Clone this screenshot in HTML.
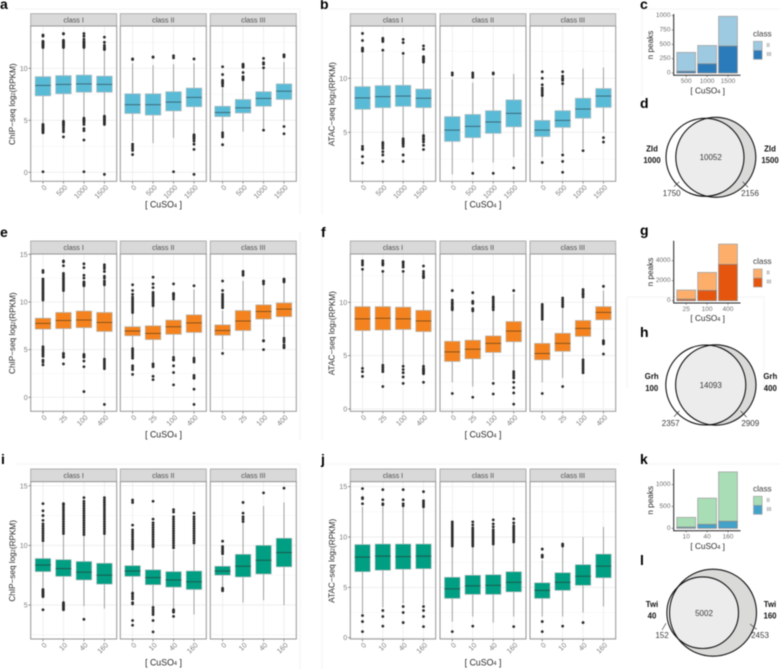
<!DOCTYPE html>
<html lang="en">
<head>
<meta charset="utf-8">
<title>CuSO4 induction ChIP-seq and ATAC-seq figure</title>
<style>
html,body{margin:0;padding:0;background:#fff;width:780px;height:669px;overflow:hidden}
#figure{display:block;filter:blur(.4px)}
text{font-family:"Liberation Sans",sans-serif}
.letter{font-size:14px;font-weight:700;fill:#000}
.vt{font-size:8px;fill:#3a3a3a;text-anchor:middle;dominant-baseline:central}
.vb{font-size:7.8px;font-weight:700;fill:#111;text-anchor:middle;dominant-baseline:central}
.wm{stroke:#f3f3f3;stroke-width:1;fill:none}
.sub{font-size:5.6px}
</style>
</head>
<body>
<svg id="figure" xmlns="http://www.w3.org/2000/svg" width="780" height="669" viewBox="0 0 780 669">
<defs>
<clipPath id="clip-d"><circle cx="715.8" cy="157.3" r="40"/></clipPath>
<clipPath id="clip-h"><circle cx="715.8" cy="385" r="40.2"/></clipPath>
<clipPath id="clip-l"><circle cx="713" cy="612.7" r="43.5"/></clipPath>
</defs>
<g id="watermarks">
<path class="wm" d="M15 9H300V214M322 214V9H620M642 96V9H780"/>
<path class="wm" d="M300 232V440M322 232V440M627 297H764V388M627 297V388"/>
<path class="wm" d="M15 464H300V669M322 669V464H620M642 464H780"/>
</g>
<g id="plots"></g>

<g>
<text class="letter" x="0" y="9">a</text>
<text class="letter" x="320" y="9">b</text>
<text class="letter" x="640" y="9">c</text>
<text class="letter" x="640" y="108">d</text>
<text class="letter" x="0" y="237">e</text>
<text class="letter" x="321" y="237">f</text>
<text class="letter" x="640" y="235">g</text>
<text class="letter" x="640" y="337">h</text>
<text class="letter" x="1" y="464">i</text>
<text class="letter" x="321" y="464">j</text>
<text class="letter" x="640" y="464">k</text>
<text class="letter" x="640" y="565">l</text>
</g>

<g>
<circle cx="715.8" cy="157.3" r="40" fill="#dadad9"/>
<circle cx="705" cy="157.3" r="39" fill="#fff"/>
<circle cx="705" cy="157.3" r="39" fill="#ececec" clip-path="url(#clip-d)"/>
<circle cx="705" cy="157.3" r="39" fill="none" stroke="#111" stroke-width="1.1"/>
<circle cx="715.8" cy="157.3" r="40" fill="none" stroke="#111" stroke-width="1.1"/>
<path d="M679.3 181.7L674 186.7M742.7 181.7L748 187.3" stroke="#444" stroke-width=".7" fill="none"/>
<text class="vt" x="710.7" y="157.7">10052</text>
<text class="vb" x="652" y="149">Zld</text>
<text class="vb" x="652" y="160.7">1000</text>
<text class="vb" x="770" y="149">Zld</text>
<text class="vb" x="770" y="160.7">1500</text>
<text class="vt" x="671.7" y="193.7">1750</text>
<text class="vt" x="750" y="193.7">2156</text>
</g>

<g>
<circle cx="715.8" cy="385" r="40.2" fill="#dadad9"/>
<circle cx="705.8" cy="385" r="40" fill="#fff"/>
<circle cx="705.8" cy="385" r="40" fill="#ececec" clip-path="url(#clip-h)"/>
<circle cx="705.8" cy="385" r="40" fill="none" stroke="#111" stroke-width="1.1"/>
<circle cx="715.8" cy="385" r="40.2" fill="none" stroke="#111" stroke-width="1.1"/>
<path d="M679.3 411L674 416.7M740.7 411L746.7 417.3" stroke="#444" stroke-width=".7" fill="none"/>
<text class="vt" x="710.7" y="385.3">14093</text>
<text class="vb" x="651.7" y="376.7">Grh</text>
<text class="vb" x="651.7" y="388.3">100</text>
<text class="vb" x="770.3" y="376.7">Grh</text>
<text class="vb" x="770.3" y="388.3">400</text>
<text class="vt" x="670.7" y="423.3">2357</text>
<text class="vt" x="750.3" y="423.3">2909</text>
</g>

<g>
<circle cx="713" cy="612.7" r="43.5" fill="#dadad9"/>
<circle cx="702.7" cy="612.7" r="35.8" fill="#fff"/>
<circle cx="702.7" cy="612.7" r="35.8" fill="#ececec" clip-path="url(#clip-l)"/>
<circle cx="702.7" cy="612.7" r="35.8" fill="none" stroke="#111" stroke-width="1.1"/>
<circle cx="713" cy="612.7" r="43.5" fill="none" stroke="#111" stroke-width="1.1"/>
<path d="M666 623.3L662 630M750 624L756.7 629.3" stroke="#444" stroke-width=".7" fill="none"/>
<text class="vt" x="704" y="613.3">5002</text>
<text class="vb" x="652" y="604.7">Twi</text>
<text class="vb" x="652" y="616">40</text>
<text class="vb" x="770" y="604.7">Twi</text>
<text class="vb" x="770" y="616">160</text>
<text class="vt" x="662" y="635.3">152</text>
<text class="vt" x="760" y="635.3">2453</text>
</g>
</svg>

<script>
// ---------- shared categories ----------
const classLabels = ['class I', 'class II', 'class III'];
const zldDoses = ['0', '500', '1000', '1500'];
const grhDoses = ['0', '25', '100', '400'];
const twiDoses = ['0', '10', '40', '160'];

// ---------- box statistics: [lower whisker, q1, median, q3, upper whisker] ----------
const statsA = [
 [4.7,7.35,8.35,9.2,11.9],[5.0,7.55,8.45,9.3,11.9],[5.3,7.7,8.5,9.35,11.9],[5.5,7.7,8.45,9.25,11.6],
 [3.0,5.65,6.5,7.55,10.5],[2.8,5.5,6.5,7.55,10.3],[3.3,5.9,6.75,7.75,10.4],[3.7,6.3,7.2,8.1,10.5],
 [3.9,5.35,5.75,6.35,8.1],[3.9,5.7,6.2,7.0,8.9],[4.2,6.35,7.1,7.75,9.9],[4.9,7.0,7.8,8.5,10.6]];
const statsB = [
 [3.9,7.13,8.18,9.23,12.3],[4.0,7.28,8.3,9.32,12.4],[4.5,7.4,8.35,9.35,12.1],[4.8,7.28,8.15,9.0,11.4],
 [1.1,4.15,5.2,6.45,9.9],[2.2,4.5,5.55,6.65,9.6],[2.2,4.9,5.95,7.0,10.1],[2.7,5.5,6.75,8.0,10.4],
 [2.7,4.6,5.2,6.1,8.3],[3.1,5.45,6.1,7.0,9.5],[3.5,6.3,7.15,8.15,10.9],[5.0,7.3,8.35,9.05,11.0]];
const statsE = [
 [5.4,7.15,7.75,8.3,10.1],[4.7,7.2,8.05,8.9,11.1],[4.6,7.3,8.1,9.05,11.6],[4.1,6.9,7.85,8.9,11.7],
 [5.1,6.45,6.95,7.4,8.8],[3.6,6.05,6.7,7.5,9.5],[4.4,6.6,7.4,8.1,10.1],[4.2,6.8,7.8,8.65,11.3],
 [5.0,6.5,7.0,7.6,9.1],[4.9,7.0,8.0,9.1,12.2],[6.2,8.2,9.0,9.7,11.9],[6.4,8.45,9.25,9.9,12.0]];
const statsF = [
 [3.9,7.35,8.45,9.6,13.0],[4.2,7.4,8.5,9.6,12.8],[4.1,7.45,8.45,9.55,12.8],[4.1,7.25,8.25,9.25,12.1],
 [2.5,4.45,5.35,6.35,9.2],[2.1,4.7,5.6,6.45,9.1],[2.7,5.3,6.15,6.85,9.2],[3.6,6.3,7.3,8.2,10.8],
 [2.5,4.6,5.2,6.15,8.2],[2.9,5.4,6.15,7.1,9.6],[4.7,6.8,7.55,8.3,10.3],[6.4,8.35,9.05,9.6,11.1]];
const statsI = [
 [6.3,7.8,8.35,8.9,10.3],[5.3,7.4,8.05,8.8,11.0],[4.9,7.1,7.75,8.65,10.9],[4.7,6.75,7.5,8.5,11.0],
 [6.0,7.4,7.85,8.3,9.6],[4.8,6.7,7.3,7.95,9.8],[4.7,6.5,7.1,7.8,9.6],[4.2,6.3,6.95,7.85,10.1],
 [6.4,7.5,7.85,8.25,9.1],[5.2,7.35,8.25,9.25,12.0],[5.4,7.6,8.75,10.0,13.3],[5.0,8.2,9.4,10.6,13.6]];
const statsJ = [
 [2.4,6.55,8.0,9.25,13.0],[3.0,6.7,8.1,9.3,13.0],[3.4,6.8,8.05,9.3,13.0],[3.3,6.85,8.1,9.3,12.9],
 [1.6,3.9,4.85,6.0,9.1],[2.1,4.3,5.15,6.2,9.1],[1.5,4.3,5.2,6.25,9.2],[2.1,4.55,5.5,6.55,9.5],
 [2.1,3.9,4.7,5.45,7.7],[2.1,4.7,5.5,6.45,9.0],[2.5,5.2,6.1,7.25,10.0],[3.1,5.95,7.1,8.3,11.0]];

// ---------- outlier values per box ----------
const outliersA = [
 [13.2,13.1,12.6,12.5,12.4,12.3,12.2,12.1,12.0,4.6,4.5,4.4,4.3,4.2,4.1,4.0,3.9,3.8,0.05],
 [13.35,13.3,12.7,12.6,12.5,12.4,12.3,12.2,12.1,12.0,4.9,4.8,4.7,4.6,4.5,4.3,4.1,3.9,3.4],
 [13.35,13.1,12.8,12.6,12.5,12.4,12.3,12.2,12.1,12.0,5.2,5.1,5.0,4.9,4.8,4.6,4.2,4.0,3.1,0.05],
 [13.0,12.5,12.2,12.0,11.9,11.8,5.4,5.3,5.2,5.1,5.0,4.9,4.8,4.7,4.6,-0.2],
 [10.9,10.85,2.7,2.5,2.3,2.1,1.7],[11.1,11.05],[11.2,11.0,0.05],
 [10.9,3.6,3.5,3.4,3.3,3.2,3.0,2.7,2.2,-0.2],
 [10.15,9.4,8.85,8.7,8.6,8.5,8.3,3.8,3.6,3.4,2.65],
 [10.4,10.3,10.2,10.1,9.6,9.2,9.1,9.0,8.9],[10.95,10.55,10.4,10.05,4.05],[11.3,11.2,11.1,4.4,3.7]];
const outliersB = [
 [14.15,13.5,12.8,12.7,12.6,12.5,3.7,3.5,3.4,2.75,2.15],
 [13.7,13.6,13.5,13.4,12.6,4.05,3.9,3.7,3.5,3.2,2.9,2.3],
 [13.6,13.3,12.3,4.4,4.3,4.2,4.1,4.0,3.9,3.7,2.9,2.3],
 [13.0,12.7,12.0,11.9,11.8,11.7,11.6,11.5,4.7,4.6,4.4,4.3,4.1,3.8,3.4],
 [10.5,10.3],[10.5,10.3,10.1,1.2],[10.5,10.4,1.2],[1.7],
 [10.6,10.0,9.4,9.1,8.9,8.7,8.5,8.4,2.2],[10.6,10.2,10.0,9.9,9.8,9.5,2.9,2.3,1.3],[3.3],[4.5,4.1]];
const outliersE = [
 [13.3,13.1,12.4,12.2,12.0,11.8,11.6,11.4,11.2,11.0,10.8,10.6,10.4,10.2,5.3,5.1,4.9,4.7,4.5,4.3,3.9,3.7,3.4],
 [14.3,14.2,13.8,13.0,12.8,12.6,12.4,12.2,12.0,11.8,11.6,11.4,11.2,4.6,4.5,4.3,4.2,3.5],
 [14.0,13.6,12.8,12.5,12.1,12.0,11.9,11.8,11.7,4.5,4.4,4.3,4.2,3.8,3.2,0.6],
 [13.9,13.7,13.5,13.2,12.7,12.5,12.2,12.0,11.8,4.0,3.8,3.6,3.4,3.2,3.0,-0.75],
 [11.8,11.2,10.8,10.5,10.3,10.1,9.9,9.7,9.5,9.3,9.1,8.9,5.1,4.9,4.7,4.5,4.3,4.1,3.3,3.1,2.9,2.4],
 [12.6,11.9,11.5,11.0,10.8,10.6,10.4,10.2,10.0,9.8,9.6,3.5,3.4,3.2,2.2,1.85],
 [11.9,10.9,10.8,10.7,10.5,10.3,4.2,4.0,3.9,3.3,2.6,1.3],
 [11.7,4.1,3.9,3.7,2.3,2.1,2.0,0.85,-0.75],
 [12.2,11.2,10.8,10.6,10.4,10.2,10.0,9.8,9.6,9.4,4.6],
 [13.2,13.0,12.8],[12.2,12.1,11.9,5.95,5.9,5.0],[12.4,12.3,12.2,12.1,6.2,6.0,5.8,5.5,5.3,5.2]];
const outliersF = [
 [13.9,13.7,13.5,13.1,3.8,3.5,3.05],[13.9,13.7,13.6,13.5,12.9,4.1,3.9,3.7,3.5,2.1],
 [13.8,13.7,13.5,13.3,12.9,4.0,3.7,3.4,3.0,2.4],[13.4,12.9,12.7,12.5,12.4,12.3,4.0,3.8,3.7,3.6,3.5,3.4,3.3,2.5],
 [11.1,10.2,10.0,9.9,9.8,9.6,9.5,9.4,9.3,1.45],[10.9,10.1,10.0,9.9,9.4,9.3,9.2,1.1],
 [10.5,10.4,10.2,10.0,9.8,9.6,9.5,9.3,2.4,1.4],[11.1,3.5,3.3,3.1,2.9,2.5,2.0,1.5,0.45],
 [9.8,9.6,9.4,9.2,9.0,8.8,8.6,8.4,1.45],[10.4,10.2,10.0,9.8,9.6,2.1],
 [11.2,11.0,10.8,10.7,10.5,4.6,4.4,4.2,4.0,3.8,3.6,3.4],[11.5,6.4,6.3,6.2,6.1,5.15]];
const outliersI = [
 [13.5,12.9,12.5,12.1,11.8,11.6,11.4,11.2,11.0,10.8,10.6,10.4,6.3,6.2,6.1,6.0,5.9,5.8,5.7,4.6],
 [13.5,13.4,13.2,13.0,12.8,12.6,12.4,12.2,12.0,11.8,11.6,11.4,11.2,11.0,5.2,5.1,5.0,4.9,4.8,4.7,4.6],
 [14.0,13.7,13.5,13.3,13.1,12.9,12.7,12.5,12.3,12.1,11.9,11.7,11.5,11.3,11.1,10.9,3.8],
 [14.0,13.8,13.6,13.4,13.2,13.0,12.8,12.6,12.4,12.2,12.0,11.8,11.6,11.4,11.2,11.0],
 [13.8,13.6,11.7,11.3,11.1,10.9,10.7,10.5,10.3,10.1,9.9,9.7,6.0,5.9,5.7,5.5,5.2,5.1,3.7,3.3],
 [13.7,12.2,11.9,11.7,11.5,11.3,11.1,10.9,10.7,10.5,10.3,10.1,9.9,4.8,4.6,4.4,4.2,3.7,2.75],
 [13.0,12.8,12.4,12.2,12.0,11.8,11.6,11.4,11.2,11.0,10.8,10.6,10.4,10.2,10.0,9.8,4.6,4.5,4.4,4.05],
 [12.7,12.4,12.2,12.0,11.8,11.6,11.4,11.2,11.0,10.8,10.6,10.4,10.2],
 [10.35,9.9,9.75,9.6,9.45,9.3,6.4,6.3,6.2],[13.6,12.7,12.4,12.2,12.0],[14.4],[14.8]];
const outliersJ = [
 [14.8,13.9,13.8,13.3,2.2,1.6,0.6],[14.7,13.7,13.3,13.2,2.7,2.1,1.15],
 [14.7,13.7,13.3,13.1,3.1,2.5,1.5],[14.5,13.6,13.4,13.2,13.0,3.1,2.7,2.1,1.1],
 [11.5,11.3,11.1,10.9,10.7,10.5,10.3,10.1,9.9,9.7,9.5,9.3,9.1,0.6],
 [11.5,11.2,10.9,10.7,10.5,10.3,10.1,9.9,9.7,9.5,9.3,9.1,1.15],
 [11.7,11.3,11.0,10.7,10.5,10.3,10.1,9.9,9.7,9.5,9.3],
 [11.8,11.4,11.1,10.9,10.7,10.5,10.3,10.1,9.9,9.7,9.5,1.1],
 [8.8,8.2,8.1,8.0,1.6,0.6],[9.3,9.2,9.1,1.15],[1.5],[]];

// ---------- tick labels ----------
const ticksA = [0,5,10];
const ticksB = [5,10];
const ticksE = [0,5,10,15];
const ticksF = [0,5,10];
const ticksI = [5,10,15];
const ticksJ = [0,5,10,15];

// ---------- stacked bars ----------
const zldBarDoses = ['500','1000','1500'];
const zldClassII = [330,320,520];
const zldClassIII = [30,160,470];
const zldBarTicks = [0,250,500,750,1000];
const grhBarDoses = ['25','100','400'];
const grhClassII = [917,1800,2030];
const grhClassIII = [150,1030,3630];
const grhBarTicks = [0,2000,4000];
const twiBarDoses = ['10','40','160'];
const twiClassII = [225,600,1130];
const twiClassIII = [25,90,160];
const twiBarTicks = [0,500,1000];

// ---------- layout (not data) ----------
const NS = 'http://www.w3.org/2000/svg';
const root = document.getElementById('plots');
const COLSA = [[30.7,116.7],[120.3,206.3],[210.3,296.3]];
const COLSB = [[350.3,435.7],[440,526],[530,615.7]];

function mk(tag, parent, attrs, txt) {
  const el = document.createElementNS(NS, tag);
  for (const k in attrs) el.setAttribute(k, attrs[k]);
  if (txt !== undefined) el.textContent = txt;
  parent.appendChild(el);
  return el;
}

function linear(d0, d1, r0, r1) {
  return v => r0 + (v - d0) * (r1 - r0) / (d1 - d0);
}

function boxPanel(o) {
  const g = mk('g', root, {});
  
  
  const y = linear(o.domain[0], o.domain[1], o.bottom, o.top);
  const minorVals = [];
  for (let i = 0; i < o.ticks.length; i++) minorVals.push(o.ticks[i] + 2.5);
  minorVals.push(o.ticks[0] - 2.5);
  classLabels.forEach((label, c) => {
    const L = o.cols[c][0], R = o.cols[c][1];
    const strip = mk('rect', g, {x:L, y:o.stripTop, width:R-L, height:o.top-o.stripTop, fill:'#d9d9d9', stroke:'#a8a8a8', 'stroke-width':.9});
    
    
    const stripText = mk('text', g, {x:(L+R)/2, y:(o.top+o.stripTop)/2, 'text-anchor':'middle', 'dominant-baseline':'central', 'font-size':7.2, fill:'#4d4d4d'}, label);
    
    
    const bg = mk('rect', g, {x:L, y:o.top, width:R-L, height:o.bottom-o.top, fill:'#fff'});
    
    
    const x = i => L + (R - L) * (i + 0.6) / 4.2;
    const bw = (R - L) / 4.2 * 0.76;
    minorVals.forEach(v => {
      if (v <= o.domain[0] || v >= o.domain[1]) return;
      const gl = mk('line', g, {x1:L, x2:R, y1:y(v), y2:y(v), stroke:'#f2f2f2', 'stroke-width':.5});
      
      
    });
    o.ticks.forEach(v => {
      const gl = mk('line', g, {x1:L, x2:R, y1:y(v), y2:y(v), stroke:'#e9e9e9', 'stroke-width':.7});
      
      
    });
    o.cats.forEach((cat, i) => {
      const cx = x(i);
      const gl = mk('line', g, {x1:cx, x2:cx, y1:o.top, y2:o.bottom, stroke:'#e9e9e9', 'stroke-width':.7});
      
      
      const s = o.stats[c * 4 + i];
      const wh = mk('line', g, {x1:cx, x2:cx, y1:y(s[0]), y2:y(s[4]), stroke:'#a0a0a0', 'stroke-width':1});
      
      
      o.outliers[c * 4 + i].forEach(v => {
        const dot = mk('circle', g, {cx:cx, cy:y(v), r:1.4, fill:'#2b2b2b'});
        
        
      });
      const box = mk('rect', g, {x:cx-bw/2, y:y(s[3]), width:bw, height:y(s[1])-y(s[3]), fill:o.fill, stroke:'#b4bcbe', 'stroke-width':.7});
      
      
      const med = mk('line', g, {x1:cx-bw/2, x2:cx+bw/2, y1:y(s[2]), y2:y(s[2]), stroke:o.median, 'stroke-width':1});
      
      
      const tk = mk('line', g, {x1:cx, x2:cx, y1:o.bottom, y2:o.bottom+2.2, stroke:'#666', 'stroke-width':.7});
      
      
      const tl = mk('text', g, {x:cx+2.5, y:o.bottom+4.8, 'text-anchor':'end', 'dominant-baseline':'central', 'font-size':7.2, fill:'#7d7d7d', transform:'rotate(-45 '+(cx+2.5)+' '+(o.bottom+4.8)+')'}, cat);
      
      
    });
    const fr = mk('rect', g, {x:L, y:o.top, width:R-L, height:o.bottom-o.top, fill:'none', stroke:'#969696', 'stroke-width':1});
    
    
  });
  const left = o.cols[0][0];
  o.ticks.forEach(v => {
    const tk = mk('line', g, {x1:left-2.2, x2:left, y1:y(v), y2:y(v), stroke:'#666', 'stroke-width':.7});
    
    
    const tl = mk('text', g, {x:left-3, y:y(v), 'text-anchor':'end', 'dominant-baseline':'central', 'font-size':7.2, fill:'#7d7d7d'}, String(v));
    
    
  });
  const ty = (o.top + o.bottom) / 2 + 0.5;
  const tx = left - 18.4;
  const yt = mk('text', g, {x:tx, y:ty, 'text-anchor':'middle', 'dominant-baseline':'central', 'font-size':8.2, fill:'#262626', transform:'rotate(-90 '+tx+' '+ty+')'}, o.title + ' log');
  
  
  mk('tspan', yt, {class:'sub', dy:1.6}, '2');
  mk('tspan', yt, {dy:-1.6}, '(RPKM)');
  const cxm = (o.cols[0][0] + o.cols[2][1]) / 2;
  const xt = mk('text', g, {x:cxm, y:o.bottom+23.4, 'text-anchor':'middle', 'dominant-baseline':'central', 'font-size':8.8, fill:'#262626'}, '[ CuSO');
  
  
  mk('tspan', xt, {class:'sub', dy:1.6}, '4');
  mk('tspan', xt, {dy:-1.6}, ' ]');
}

function barPanel(o) {
  const g = mk('g', root, {});
  
  
  const y = linear(o.domain[0], o.domain[1], o.bottom, o.top);
  const left = 673.7, right = 740.5;
  const band = (right - left) / 3.2;
  const x = i => left + band * (i + 0.6);
  const bw = band * 0.9;
  o.cats.forEach((cat, i) => {
    const total = o.ii[i] + o.iii[i];
    const up = mk('rect', g, {x:x(i)-bw/2, y:y(total), width:bw, height:y(o.iii[i])-y(total), fill:o.colII, stroke:'#a3a3a3', 'stroke-width':.8});
    
    
    const lo = mk('rect', g, {x:x(i)-bw/2, y:y(o.iii[i]), width:bw, height:y(0)-y(o.iii[i]), fill:o.colIII, stroke:'#8a8a8a', 'stroke-width':.8});
    
    
    const tk = mk('line', g, {x1:x(i), x2:x(i), y1:o.bottom, y2:o.bottom+1.8, stroke:'#555', 'stroke-width':.6});
    
    
    const tl = mk('text', g, {x:x(i), y:o.bottom+6.4, 'text-anchor':'middle', 'dominant-baseline':'central', 'font-size':6.6, fill:'#6f6f6f'}, cat);
    
    
  });
  const ax = mk('path', g, {d:'M'+left+' '+o.top+'V'+o.bottom+'H'+right, fill:'none', stroke:'#222', 'stroke-width':1});
  
  
  o.ticks.forEach(v => {
    const tk = mk('line', g, {x1:left-2, x2:left, y1:y(v), y2:y(v), stroke:'#555', 'stroke-width':.6});
    
    
    const tl = mk('text', g, {x:left-3.2, y:y(v), 'text-anchor':'end', 'dominant-baseline':'central', 'font-size':6.6, fill:'#6f6f6f'}, String(v));
    
    
  });
  const ty = o.titleY;
  const yt = mk('text', g, {x:650.3, y:ty, 'text-anchor':'middle', 'dominant-baseline':'central', 'font-size':8.2, fill:'#262626', transform:'rotate(-90 650.3 '+ty+')'}, 'n peaks');
  
  
  const xt = mk('text', g, {x:707.7, y:o.bottom+15.7, 'text-anchor':'middle', 'dominant-baseline':'central', 'font-size':8.2, fill:'#262626'}, '[ CuSO');
  
  
  mk('tspan', xt, {class:'sub', dy:1.4}, '4');
  mk('tspan', xt, {dy:-1.4}, ' ]');
  const lt = mk('text', g, {x:753, y:o.legendY, 'dominant-baseline':'central', 'font-size':8.2, fill:'#3a3a3a'}, 'class');
  
  
  const ky = o.legendY + 7.3;
  const k1 = mk('rect', g, {x:753.5, y:ky, width:8.6, height:9, fill:o.colII, stroke:'#a3a3a3', 'stroke-width':.7});
  
  
  const k2 = mk('rect', g, {x:753.5, y:ky+9, width:8.6, height:9, fill:o.colIII, stroke:'#a3a3a3', 'stroke-width':.7});
  
  
  const l1 = mk('text', g, {x:766.5, y:ky+4.5, 'dominant-baseline':'central', 'font-size':5.8, fill:'#6f6f6f'}, 'II');
  
  
  const l2 = mk('text', g, {x:766.5, y:ky+13.5, 'dominant-baseline':'central', 'font-size':5.8, fill:'#6f6f6f'}, 'III');
  
  
}

const BLUE = {fill:'#5abbd7', median:'#3b6a78'};
const ORANGE = {fill:'#f4831f', median:'#8a5218'};
const GREEN = {fill:'#009e82', median:'#1c5a4e'};

boxPanel({name:'chip-seq-zld-boxplot', cols:COLSA, stripTop:13.7, top:26, bottom:181.3, domain:[-0.87,14.07], cats:zldDoses, stats:statsA, outliers:outliersA, ticks:ticksA, title:'ChIP\u2212seq', fill:BLUE.fill, median:BLUE.median});
boxPanel({name:'atac-seq-zld-boxplot', cols:COLSB, stripTop:13.7, top:26, bottom:181.3, domain:[0.46,14.84], cats:zldDoses, stats:statsB, outliers:outliersB, ticks:ticksB, title:'ATAC\u2212seq', fill:BLUE.fill, median:BLUE.median});
boxPanel({name:'chip-seq-grh-boxplot', cols:COLSA, stripTop:241, top:254, bottom:411.3, domain:[-1.47,15.03], cats:grhDoses, stats:statsE, outliers:outliersE, ticks:ticksE, title:'ChIP\u2212seq', fill:ORANGE.fill, median:ORANGE.median});
boxPanel({name:'atac-seq-grh-boxplot', cols:COLSB, stripTop:241, top:254, bottom:411.3, domain:[-0.22,14.53], cats:grhDoses, stats:statsF, outliers:outliersF, ticks:ticksF, title:'ATAC\u2212seq', fill:ORANGE.fill, median:ORANGE.median});
boxPanel({name:'chip-seq-twi-boxplot', cols:COLSA, stripTop:469, top:481.7, bottom:639, domain:[2.15,15.34], cats:twiDoses, stats:statsI, outliers:outliersI, ticks:ticksI, title:'ChIP\u2212seq', fill:GREEN.fill, median:GREEN.median});
boxPanel({name:'atac-seq-twi-boxplot', cols:COLSB, stripTop:469, top:481.7, bottom:639, domain:[-0.13,15.49], cats:twiDoses, stats:statsJ, outliers:outliersJ, ticks:ticksJ, title:'ATAC\u2212seq', fill:GREEN.fill, median:GREEN.median});

barPanel({name:'zld-peak-count-bars', top:14, bottom:75.3, domain:[-40,1030], cats:zldBarDoses, ii:zldClassII, iii:zldClassIII, ticks:zldBarTicks, colII:'#9ecae1', colIII:'#2b7bba', titleY:45, legendY:34});
barPanel({name:'grh-peak-count-bars', top:240.7, bottom:303, domain:[-230,6000], cats:grhBarDoses, ii:grhClassII, iii:grhClassIII, ticks:grhBarTicks, colII:'#fdae6b', colIII:'#e6550d', titleY:272, legendY:261.7});
barPanel({name:'twi-peak-count-bars', top:469, bottom:530.7, domain:[-55,1357], cats:twiBarDoses, ii:twiClassII, iii:twiClassIII, ticks:twiBarTicks, colII:'#a8ddb5', colIII:'#43a2ca', titleY:500.3, legendY:489});
</script>
</body>
</html>
